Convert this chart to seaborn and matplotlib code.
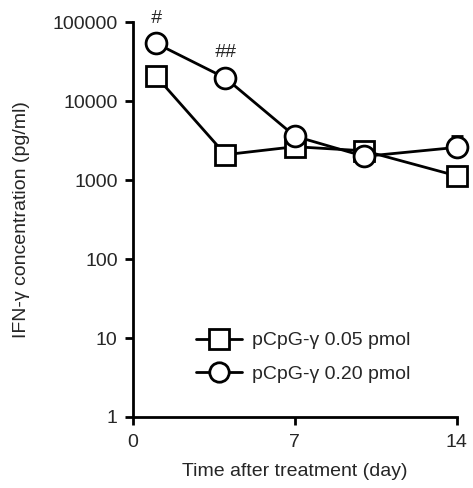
import numpy as np
import pandas as pd
import matplotlib
matplotlib.use("Agg")
import matplotlib.pyplot as plt
import seaborn as sns

days = [1, 4, 7, 10, 14]
low_dose = [20700, 2100, 2650, 2350, 1130]
high_dose = [54000, 19600, 3600, 2000, 2600]
high_dose_err = [0, 0, 0, 0, 1050]
groups = ["pCpG-\u03b3 0.05 pmol", "pCpG-\u03b3 0.20 pmol"]
marks = {1: "#", 4: "##"}

df = pd.DataFrame({
    "day": days * 2,
    "conc": low_dose + high_dose,
    "group": [groups[0]] * len(days) + [groups[1]] * len(days),
})

sns.set_style("ticks")
plt.rcParams["font.family"] = ["Liberation Sans", "DejaVu Sans"]

fig = plt.figure(figsize=(4.73, 4.88), dpi=100)
ax = fig.add_axes([0.281, 0.1455, 0.685, 0.809])

# error bar drawn first so the circle sits over it
ax.errorbar(days, high_dose, yerr=[np.zeros(len(days)), high_dose_err],
            fmt="none", ecolor="black", elinewidth=2, capsize=4, capthick=2,
            zorder=1, clip_on=False)

sns.lineplot(data=df, x="day", y="conc", hue="group", style="group",
             markers=["s", "o"], dashes=False, palette=["black", "black"],
             markersize=15, markerfacecolor="white", markeredgecolor="black",
             markeredgewidth=2, linewidth=2, legend=False, ax=ax, zorder=3,
             clip_on=False)

for d, txt in marks.items():
    y = high_dose[days.index(d)]
    ax.annotate(txt, (d, y), xytext=(0, 12), textcoords="offset points",
                ha="center", va="bottom", fontsize=14, style="italic")

ax.set_yscale("log")
ax.set_ylim(1, 100000)
ax.set_xlim(0, 14)
ax.set_yticks([1, 10, 100, 1000, 10000, 100000])
ax.set_yticklabels(["1", "10", "100", "1000", "10000", "100000"])
ax.yaxis.set_minor_locator(matplotlib.ticker.NullLocator())
ax.set_xticks([0, 7, 14])
ax.tick_params(axis="both", labelsize=14, width=2, length=6, color="black")
ax.tick_params(axis="y", pad=5)
ax.tick_params(axis="x", pad=6)

for s in ["left", "bottom"]:
    ax.spines[s].set_linewidth(2)
    ax.spines[s].set_color("black")
sns.despine(ax=ax)

ax.set_xlabel("Time after treatment (day)", fontsize=14, labelpad=9)
ax.set_ylabel("IFN-\u03b3 concentration (pg/ml)", fontsize=14, labelpad=16)

handles = [
    matplotlib.lines.Line2D([], [], color="black", lw=2, marker=m, markersize=14,
                            markerfacecolor="white", markeredgewidth=2)
    for m in ["s", "o"]
]
ax.legend(handles, groups, loc="upper left", bbox_to_anchor=(0.14, 0.26),
          frameon=False, fontsize=14, handlelength=2.4, labelspacing=0.8,
          handletextpad=0.5)

fig.savefig("out.png", dpi=100)
